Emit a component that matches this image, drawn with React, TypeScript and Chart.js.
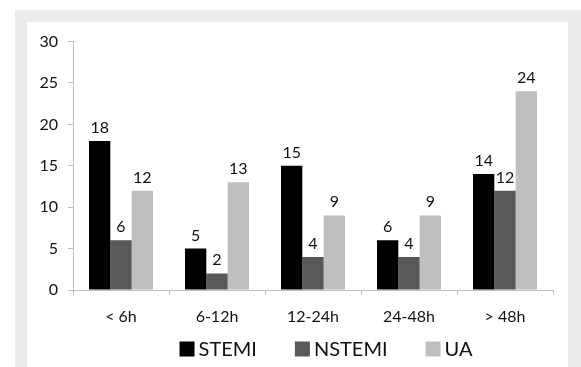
import React, { useEffect, useRef } from "react";
import { Chart, registerables } from "chart.js";

Chart.register(...registerables);

const categories = ["< 6h", "6-12h", "12-24h", "24-48h", "> 48h"];
const stemi = [18, 5, 15, 6, 14];
const nstemi = [6, 2, 4, 4, 12];
const ua = [12, 13, 9, 9, 24];
const seriesNames = ["STEMI", "NSTEMI", "UA"];
const seriesColors = ["#000000", "#595959", "#bfbfbf"];

const FONT = "Lato, 'DejaVu Sans', sans-serif";
const TEXT = "#111111";

// Writes each bar's value just above its top edge.
const valueLabels = {
  id: "valueLabels",
  afterDatasetsDraw(chart: any) {
    const ctx = chart.ctx;
    ctx.save();
    ctx.font = `16px ${FONT}`;
    ctx.fillStyle = TEXT;
    ctx.textAlign = "center";
    ctx.textBaseline = "alphabetic";
    chart.data.datasets.forEach((ds: any, i: number) => {
      const meta = chart.getDatasetMeta(i);
      meta.data.forEach((bar: any, j: number) => {
        ctx.fillText(String(ds.data[j]), bar.x, bar.y - 8);
      });
    });
    ctx.restore();
  },
};

// Row of square swatches with series names under the axis.
const squareLegend = {
  id: "squareLegend",
  afterDraw(chart: any) {
    const ctx = chart.ctx;
    const box = 15;
    const gap = 4;
    const spacing = 38;
    ctx.save();
    ctx.font = `20px ${FONT}`;
    ctx.textBaseline = "middle";
    ctx.textAlign = "left";
    const widths = seriesNames.map((n) => box + gap + ctx.measureText(n).width);
    const total = widths.reduce((a, b) => a + b, 0) + spacing * (widths.length - 1);
    const area = chart.chartArea;
    const cx = (area.left + area.right) / 2 + 13;
    const y = area.bottom + 59;
    let x = cx - total / 2;
    seriesNames.forEach((n, i) => {
      ctx.fillStyle = seriesColors[i];
      ctx.fillRect(x, y - box / 2, box, box);
      ctx.fillStyle = TEXT;
      ctx.fillText(n, x + box + gap, y + 1);
      x += widths[i] + spacing;
    });
    ctx.restore();
  },
};

export default function App() {
  const ref = useRef<HTMLCanvasElement | null>(null);

  useEffect(() => {
    if (!ref.current) return;
    const chart = new Chart(ref.current, {
      type: "bar",
      data: {
        labels: categories,
        datasets: [stemi, nstemi, ua].map((d, i) => ({
          label: seriesNames[i],
          data: d,
          backgroundColor: seriesColors[i],
          borderWidth: 0,
          barPercentage: 1,
          categoryPercentage: 0.667,
        })),
      },
      options: {
        animation: false,
        responsive: false,
        maintainAspectRatio: false,
        layout: { padding: { top: 19, right: 15, bottom: 0, left: 0 } },
        plugins: {
          legend: { display: false },
          tooltip: { enabled: false },
        },
        scales: {
          x: {
            offset: true,
            grid: {
              offset: true,
              drawOnChartArea: false,
              drawTicks: true,
              tickLength: 5,
              color: "#bfbfbf",
            },
            border: { color: "#bfbfbf", width: 1 },
            ticks: {
              color: TEXT,
              font: { family: FONT, size: 16 },
              padding: 12,
              maxRotation: 0,
            },
            afterFit(scale: any) {
              scale.height = 77;
            },
          },
          y: {
            min: 0,
            max: 30,
            ticks: {
              stepSize: 5,
              color: TEXT,
              font: { family: FONT, size: 16 },
              padding: 10,
            },
            grid: {
              drawOnChartArea: false,
              drawTicks: true,
              tickLength: 5,
              color: "#bfbfbf",
            },
            border: { color: "#bfbfbf", width: 1 },
            afterFit(scale: any) {
              scale.width = 46;
            },
          },
        },
      },
      plugins: [valueLabels, squareLegend],
    });
    return () => chart.destroy();
  }, []);

  return (
    <div
      style={{
        position: "fixed",
        left: 0,
        top: 0,
        width: 581,
        height: 367,
        background: "#ffffff",
        overflow: "hidden",
      }}
    >
      <div
        style={{
          position: "absolute",
          left: 15,
          top: 10,
          width: 566,
          height: 357,
          background: "#ebebeb",
        }}
      />
      <div
        style={{
          position: "absolute",
          left: 27,
          top: 22,
          width: 541,
          height: 345,
          background: "#ffffff",
        }}
      >
        <canvas ref={ref} width={541} height={345} style={{ display: "block" }} />
      </div>
    </div>
  );
}
